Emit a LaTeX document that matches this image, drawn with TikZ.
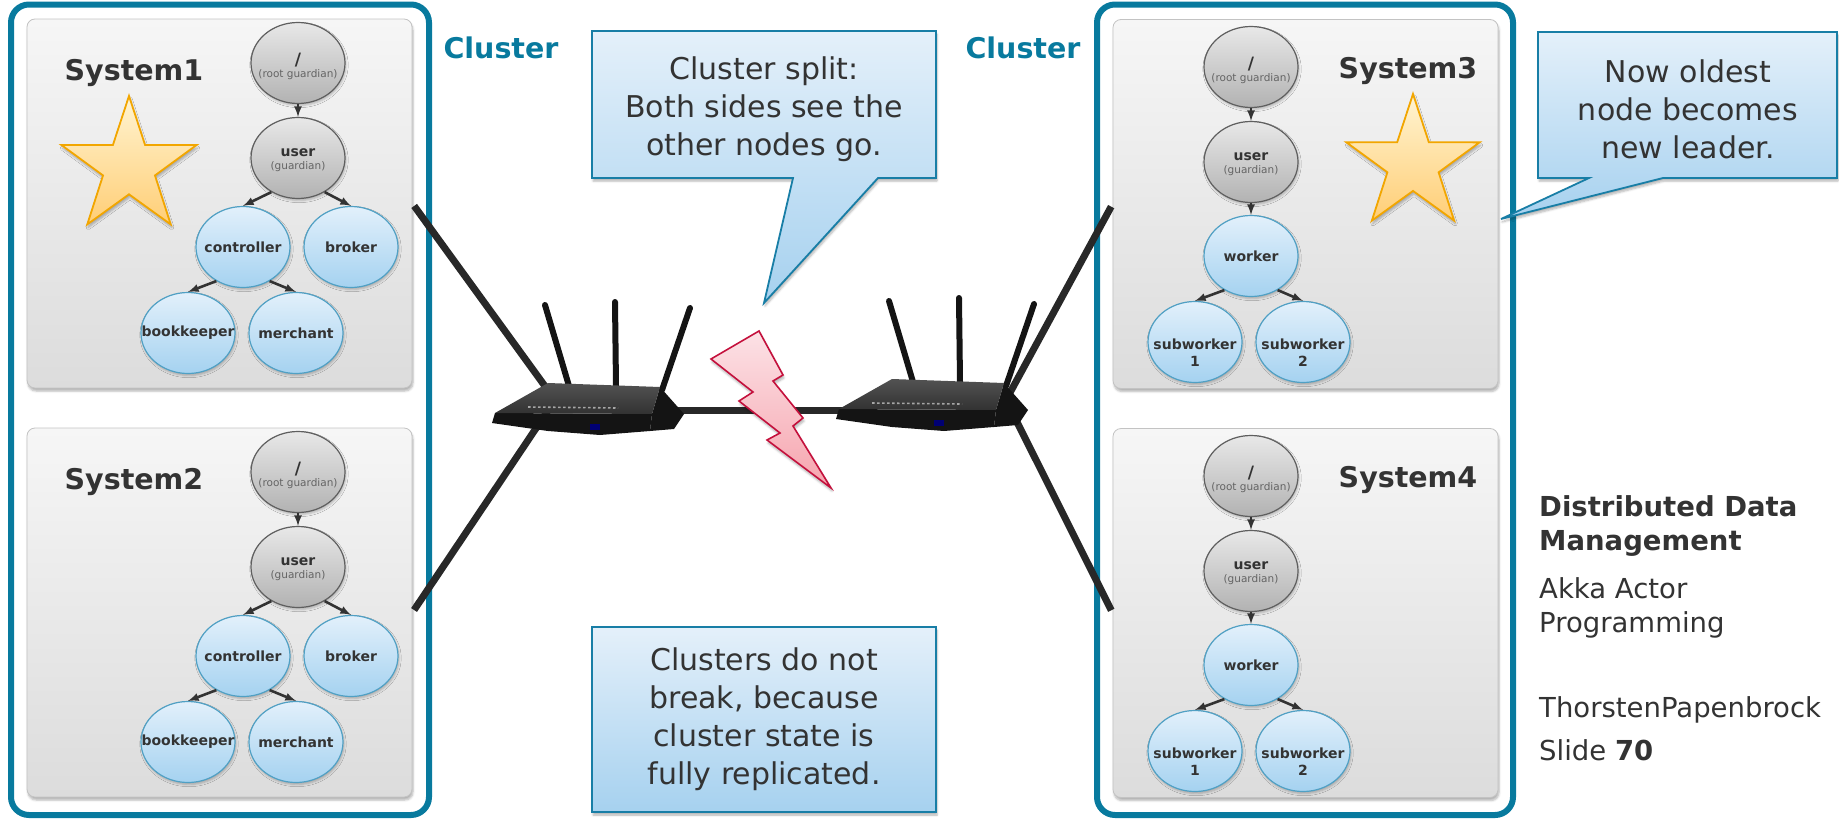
\documentclass[tikz,border=0pt]{standalone}
\usepackage{fontspec}
\setmainfont{DejaVu Sans}
\usetikzlibrary{shapes.geometric, arrows, positioning, shadows, shadows.blur}

\definecolor{clusterBlue}{RGB}{8,122,158}
\definecolor{textGrey}{RGB}{51,51,51}
\definecolor{subGrey}{RGB}{100,100,100}
\definecolor{linkGrey}{RGB}{40,40,40}
\definecolor{sysTop}{RGB}{246,246,246}
\definecolor{sysBot}{RGB}{220,220,220}
\definecolor{sysLine}{RGB}{195,195,195}
\definecolor{greyTop}{RGB}{232,232,232}
\definecolor{greyBot}{RGB}{178,178,178}
\definecolor{greyLine}{RGB}{95,95,95}
\definecolor{blueTop}{RGB}{226,240,251}
\definecolor{blueBot}{RGB}{165,210,240}
\definecolor{blueLine}{RGB}{80,160,196}
\definecolor{noteTop}{RGB}{228,240,250}
\definecolor{noteBot}{RGB}{166,209,239}
\definecolor{noteLine}{RGB}{24,126,166}
\definecolor{starTop}{RGB}{255,244,210}
\definecolor{starBot}{RGB}{255,206,118}
\definecolor{starLine}{RGB}{242,166,0}
\definecolor{boltTop}{RGB}{252,226,230}
\definecolor{boltBot}{RGB}{246,164,174}
\definecolor{boltLine}{RGB}{196,16,60}
\definecolor{routerTop}{RGB}{82,82,82}
\definecolor{routerBot}{RGB}{50,50,50}
\definecolor{routerBlack}{RGB}{20,20,20}

\tikzset{
	arrow/.style={-latex, line width=2.6pt, draw=textGrey},
	>=latex,
	softshadow/.style={blur shadow={shadow xshift=1pt, shadow yshift=-3pt, shadow blur steps=5, shadow opacity=30}},
	clusterframe/.style={draw=clusterBlue, line width=6pt, rounded corners=18pt},
	clusterlabel/.style={font=\fontsize{28.5}{30}\bfseries, text=clusterBlue, inner sep=0pt},
	sysbox/.style={rectangle, rounded corners=8pt, minimum width=385pt, minimum height=369pt,
		draw=sysLine, line width=0.8pt, top color=sysTop, bottom color=sysBot, softshadow},
	syslabel/.style={font=\fontsize{28.5}{30}\bfseries, text=textGrey, inner sep=0pt},
	actor/.style={ellipse, minimum width=94pt, minimum height=81pt, inner sep=0pt, line width=1.2pt,
		blur shadow={shadow xshift=1pt, shadow yshift=-2pt, shadow blur steps=4, shadow opacity=25}},
	greyactor/.style={actor, draw=greyLine, top color=greyTop, bottom color=greyBot},
	blueactor/.style={actor, draw=blueLine, top color=blueTop, bottom color=blueBot},
	actorname/.style={font=\fontsize{14}{16}\bfseries, text=textGrey, inner sep=0pt},
	actorsub/.style={font=\fontsize{10.5}{12}\selectfont, text=subGrey, inner sep=0pt},
	onelabel/.style={label={[actorname]center:#1}},
	twolabel/.style 2 args={label={[actorname, yshift=5pt]center:#1}, label={[actorsub, yshift=-9pt]center:#2}},
	rootlabel/.style={label={[actorname, font=\fontsize{17}{17}\bfseries, yshift=3pt]center:/},
		label={[actorsub, yshift=-12pt]center:(root guardian)}},
	sublabel/.style={label={[actorname, yshift=-2pt]center:subworker}, label={[actorname, yshift=-19pt]center:#1}},
	leaderstar/.style={star, star points=5, star point ratio=2.6, minimum size=#1, inner sep=0pt,
		draw=starLine, line width=1.8pt, top color=starTop, bottom color=starBot, softshadow},
	link/.style={draw=linkGrey, line width=7pt},
	antenna/.style={draw=routerBlack, line width=6pt, line cap=round},
	leds/.style={draw=gray!70, line width=1.6pt, dash pattern=on 2.5pt off 2.5pt},
	bolt/.style={draw=boltLine, line width=1.6pt, top color=boltTop, bottom color=boltBot, softshadow},
	note/.style={draw=noteLine, line width=1.8pt, top color=noteTop, bottom color=noteBot, softshadow},
	notetext/.style={align=center, font=\fontsize{30}{38}\selectfont, text=textGrey, inner sep=0pt},
	footbold/.style={align=left, font=\fontsize{27.5}{34}\bfseries, text=textGrey, inner sep=0pt},
	foottext/.style={align=left, font=\fontsize{27.5}{34}\selectfont, text=textGrey, inner sep=0pt}
}

% wireless router with three antennas, origin in the middle of the body
\newcommand{\router}[1]{%
	\begin{scope}[shift={#1}]
		\draw[antenna] (-43,-105) -- (-19,-24);
		\draw[antenna] (27,-108) -- (28,-24);
		\draw[antenna] (102,-102) -- (74,-20);
		\fill[routerBlack] (-93,3) -- (64,4) -- (62,21) -- (12,25) -- (-40,21) -- (-96,13) -- cycle;
		\fill[routerBlack] (72,-23) -- (96,4) -- (86,19) -- (62,21) -- (64,4) -- cycle;
		\shade[top color=routerTop, bottom color=routerBot] (-93,3) -- (-40,-27) -- (72,-23) -- (64,4) -- cycle;
		\draw[leds] (-60,-3) -- (30,-2);
		\fill[blue!45!black] (2,14) rectangle (12,20);
	\end{scope}}

\begin{document}
\begin{tikzpicture}[x=1pt, y=-1pt]
	\useasboundingbox (0,0) rectangle (1839,819);

	% left actor systems
	\foreach \s/\dy in {1/0, 2/409}
	{
		\node[sysbox] (sys\s) at (219.5, 203.5+\dy) {};
		\node[syslabel, anchor=base] (sysname\s) at (134, 80+\dy) {System\s};
		\node[greyactor, rootlabel] (root\s) at (298, 63+\dy) {};
		\node[greyactor, twolabel={user}{(guardian)}] (user\s) at (298, 158+\dy) {};
		\node[blueactor, onelabel=controller] (ctrl\s) at (243, 247+\dy) {};
		\node[blueactor, onelabel=broker] (brok\s) at (351, 247+\dy) {};
		\node[blueactor, onelabel=bookkeeper] (book\s) at (188, 333+\dy) {};
		\node[blueactor, onelabel=merchant] (merc\s) at (296, 333+\dy) {};
		\draw[arrow] (root\s.south) -- (user\s.north);
		\draw[arrow] (user\s.-128) -- (ctrl\s.north);
		\draw[arrow] (user\s.-52) -- (brok\s.north);
		\draw[arrow] (ctrl\s.-128) -- (book\s.north);
		\draw[arrow] (ctrl\s.-52) -- (merc\s.north);
	}

	% right actor systems
	\foreach \s/\dy in {3/0, 4/409}
	{
		\node[sysbox] (sys\s) at (1305.5, 204+\dy) {};
		\node[syslabel, anchor=base] (sysname\s) at (1408, 78+\dy) {System\s};
		\node[greyactor, rootlabel] (root\s) at (1251, 67+\dy) {};
		\node[greyactor, twolabel={user}{(guardian)}] (user\s) at (1251, 162+\dy) {};
		\node[blueactor, onelabel=worker] (work\s) at (1251, 256+\dy) {};
		\node[blueactor, sublabel=1] (subA\s) at (1195, 342+\dy) {};
		\node[blueactor, sublabel=2] (subB\s) at (1303, 342+\dy) {};
		\draw[arrow] (root\s.south) -- (user\s.north);
		\draw[arrow] (user\s.south) -- (work\s.north);
		\draw[arrow] (work\s.-128) -- (subA\s.north);
		\draw[arrow] (work\s.-52) -- (subB\s.north);
	}

	% cluster frames
	\draw[clusterframe] (11,4.5) rectangle (429,815);
	\draw[clusterframe] (1097,4.5) rectangle (1513,815);
	\node[clusterlabel, anchor=base] (clusterL) at (501,58) {Cluster};
	\node[clusterlabel, anchor=base] (clusterR) at (1023,58) {Cluster};

	% leaders
	\node[leaderstar=142pt] (star1) at (129,167) {};
	\node[leaderstar=140pt] (star3) at (1413,164) {};

	% network links
	\coordinate (hubL) at (555,400);
	\coordinate (hubR) at (1006,400);
	\coordinate (portL) at (660,410);
	\coordinate (portR) at (860,410);
	\draw[link, shorten <=3pt] (sys1.east) -- (hubL);
	\draw[link, shorten <=3pt] (sys2.east) -- (hubL);
	\draw[link, shorten <=3pt] (sys3.west) -- (hubR);
	\draw[link, shorten <=3pt] (sys4.west) -- (hubR);
	\draw[link] (portL) -- (portR);

	% routers
	\router{(588,410)}
	\router{(932,406)}

	% broken connection
	\draw[bolt] (759,331) -- (783,375) -- (773,381) -- (803,418) -- (793,426) -- (831,488)
		-- (767,440) -- (780,433) -- (739,401) -- (753,392) -- (711,359) -- cycle;

	% callouts
	\coordinate (tip1) at (764,303);
	\path[note] (592,31) -- (936,31) -- (936,178) -- (878,178) -- (tip1) -- (793,178) -- (592,178) -- cycle;
	\node[notetext] (note1) at (764,109) {Cluster split:\\Both sides see the\\other nodes go.};

	\coordinate (tip2) at (1501,219);
	\path[note] (1538,32) -- (1837,32) -- (1837,178) -- (1663,178) -- (tip2) -- (1589,178) -- (1538,178) -- cycle;
	\node[notetext] (note2) at (1688,109) {Now oldest\\node becomes\\new leader.};

	\node[notetext, rectangle, minimum width=344pt, minimum height=185pt, draw=noteLine, line width=1.8pt,
		top color=noteTop, bottom color=noteBot, softshadow] (note3) at (764,719.5)
		{Clusters do not\\break, because\\cluster state is\\fully replicated.};

	% slide footer
	\node[footbold, anchor=north west] (course) at (1539,495) {Distributed Data\\Management};
	\node[foottext, anchor=north west] (topic) at (1539,577) {Akka Actor\\Programming};
	\node[foottext, anchor=base west] (author) at (1539,717) {ThorstenPapenbrock};
	\node[foottext, anchor=base west] (slide) at (1539,760) {Slide \textbf{70}};
\end{tikzpicture}
\end{document}
